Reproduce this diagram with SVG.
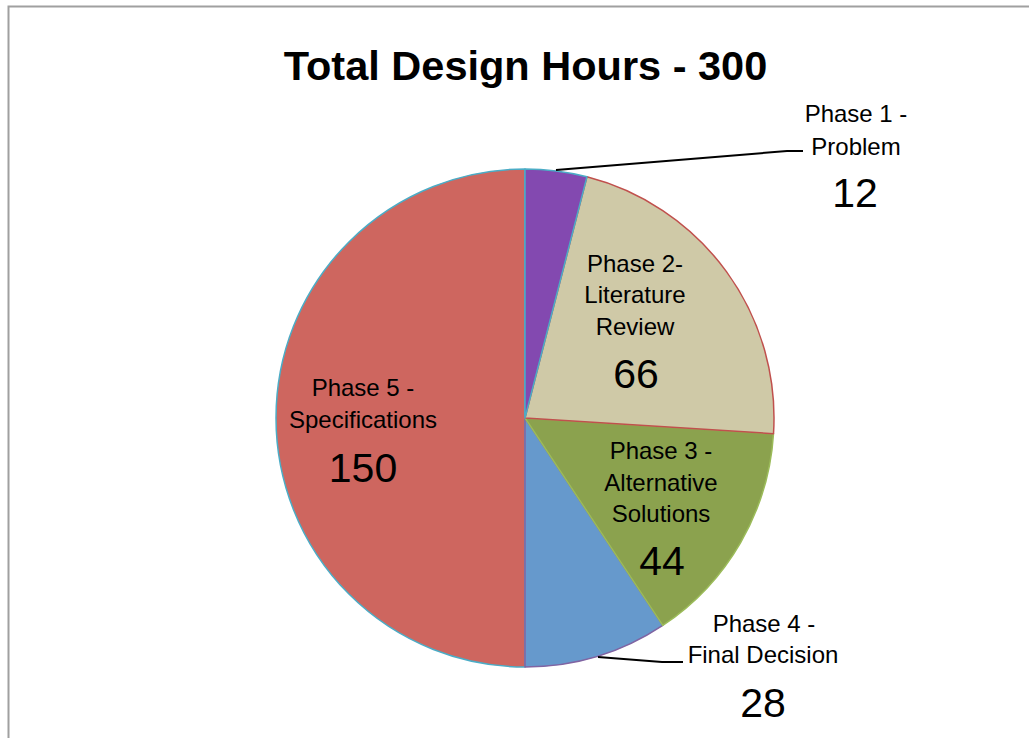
<svg xmlns="http://www.w3.org/2000/svg" width="1029" height="738" viewBox="0 0 1029 738">
<style>
.lbl{font-family:"Liberation Sans",Arial,sans-serif;font-size:24px;fill:#000;text-anchor:middle}
.num{font-family:"Liberation Sans",Arial,sans-serif;font-size:41px;fill:#000;text-anchor:middle}
.title{font-family:"Liberation Sans",Arial,sans-serif;font-size:41.5px;font-weight:bold;fill:#000;text-anchor:middle}
.lead{fill:none;stroke:#000;stroke-width:2}
.sl{stroke-width:1.5;stroke-linejoin:round}
</style>
<rect x="0" y="0" width="1029" height="738" fill="#fff"/>
<rect x="8.5" y="6.5" width="1040" height="760" fill="none" stroke="#a0a0a0" stroke-width="2"/>
<text class="title" x="525.5" y="80">Total Design Hours - 300</text>
<g id="pie">
<g id="phase5"><path class="sl" d="M525,418 L525,667 A249,249 0 0 1 525,169 Z" fill="#CE665F" stroke="#4BACC6"/></g>
<g id="phase4"><path class="sl" d="M525,418 L662.79,625.40 A249,249 0 0 1 525,667 Z" fill="#6699CC" stroke="#8064A2"/></g>
<g id="phase3"><path class="sl" d="M525,418 L773.51,433.63 A249,249 0 0 1 662.79,625.40 Z" fill="#8BA24E" stroke="#9BBB59"/></g>
<g id="phase2"><path class="sl" d="M525,418 L586.93,176.82 A249,249 0 0 1 773.51,433.63 Z" fill="#CFC9A7" stroke="#C0504D"/></g>
<g id="phase1"><path class="sl" d="M525,418 L525,169 A249,249 0 0 1 586.93,176.82 Z" fill="#8349B0" stroke="#4BACC6"/></g>
</g>
<g id="connectors">
<polyline class="lead" points="556,170 787,151 803,151"/>
<polyline class="lead" points="598,657 662,662 683,662"/>
</g>
<g id="label1">
<text class="lbl" x="856" y="122">Phase 1 -</text>
<text class="lbl" x="856" y="155">Problem</text>
<text class="num" x="855" y="207">12</text>
</g>
<g id="label2">
<text class="lbl" x="635" y="272">Phase 2-</text>
<text class="lbl" x="635" y="303">Literature</text>
<text class="lbl" x="635" y="335">Review</text>
<text class="num" x="636" y="388">66</text>
</g>
<g id="label3">
<text class="lbl" x="661" y="459">Phase 3 -</text>
<text class="lbl" x="661" y="491">Alternative</text>
<text class="lbl" x="661" y="522">Solutions</text>
<text class="num" x="662" y="575">44</text>
</g>
<g id="label4">
<text class="lbl" x="764" y="632">Phase 4 -</text>
<text class="lbl" x="763" y="663">Final Decision</text>
<text class="num" x="763" y="717">28</text>
</g>
<g id="label5">
<text class="lbl" x="363" y="396">Phase 5 -</text>
<text class="lbl" x="363" y="428">Specifications</text>
<text class="num" x="363" y="482">150</text>
</g>
</svg>
